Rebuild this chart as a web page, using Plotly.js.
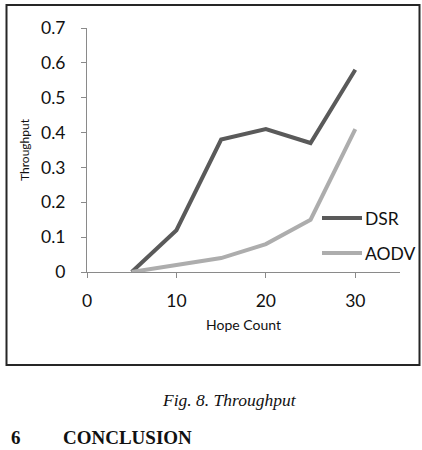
<!DOCTYPE html>
<html>
<head>
<meta charset="utf-8">
<script src="https://cdn.plot.ly/plotly-3.0.1.min.js"></script>
<style>
  html, body { margin: 0; padding: 0; background: #ffffff; }
  #chart { width: 422px; height: 450px; }
</style>
</head>
<body>
<div id="chart"></div>
<script>
// Data
var hopCount = [5, 10, 15, 20, 25, 30];
var dsrThroughput = [0, 0.12, 0.38, 0.41, 0.37, 0.58];
var aodvThroughput = [0, 0.02, 0.04, 0.08, 0.15, 0.41];
var seriesNames = ['DSR', 'AODV'];
var xTickVals = [0, 10, 20, 30];
var yTickVals = [0, 0.1, 0.2, 0.3, 0.4, 0.5, 0.6, 0.7];
var yTickText = ['0', '0.1', '0.2', '0.3', '0.4', '0.5', '0.6', '0.7'];

var dsrColor = '#5a5a5a';
var aodvColor = '#adadad';
var axisColor = '#8a8a8a';
var fontFam = 'Lato, "Liberation Sans", sans-serif';

var traces = [
  {
    x: hopCount, y: dsrThroughput, name: seriesNames[0],
    type: 'scatter', mode: 'lines', cliponaxis: false,
    line: { color: dsrColor, width: 4 }
  },
  {
    x: hopCount, y: aodvThroughput, name: seriesNames[1],
    type: 'scatter', mode: 'lines', cliponaxis: false,
    line: { color: aodvColor, width: 4 }
  }
];

// Layout geometry helpers (pixel -> paper)
var W = 422, H = 450, mL = 87, mR = 22, mT = 28, mB = 178;
var pw = W - mL - mR, ph = H - mT - mB;
function px(x) { return (x - mL) / pw; }
function py(y) { return (H - mB - y) / ph; }

var legendY = [218, 253];
var legendColors = [dsrColor, aodvColor];

var shapes = [
  { type: 'rect', xref: 'paper', yref: 'paper',
    x0: px(6.5), x1: px(419.5), y0: py(365), y1: py(5),
    line: { color: '#262626', width: 2 }, fillcolor: 'rgba(0,0,0,0)' }
];
var annotations = [];
for (var i = 0; i < seriesNames.length; i++) {
  shapes.push({ type: 'line', xref: 'paper', yref: 'paper',
    x0: px(322), x1: px(362), y0: py(legendY[i]), y1: py(legendY[i]),
    line: { color: legendColors[i], width: 4 } });
  annotations.push({ xref: 'paper', yref: 'paper', x: px(363), y: py(legendY[i]),
    xanchor: 'left', yanchor: 'middle', showarrow: false, text: seriesNames[i],
    font: { family: fontFam, size: 17.5, color: '#111111' } });
}
annotations.push({ xref: 'paper', yref: 'paper', x: px(229), y: py(400),
  xanchor: 'center', yanchor: 'middle', showarrow: false,
  text: '<i>Fig. 8. Throughput</i>',
  font: { family: '"Liberation Serif", "Times New Roman", serif', size: 17.5, color: '#111111' } });
annotations.push({ xref: 'paper', yref: 'paper', x: px(9), y: py(437),
  xanchor: 'left', yanchor: 'middle', showarrow: false,
  text: '<b>6</b>',
  font: { family: '"Liberation Serif", "Times New Roman", serif', size: 19, color: '#111111' } });
annotations.push({ xref: 'paper', yref: 'paper', x: px(61), y: py(437),
  xanchor: 'left', yanchor: 'middle', showarrow: false,
  text: '<b>CONCLUSION</b>',
  font: { family: '"Liberation Serif", "Times New Roman", serif', size: 19, color: '#111111' } });

var layout = {
  width: W, height: H,
  margin: { l: mL, r: mR, t: mT, b: mB, pad: 0 },
  paper_bgcolor: '#ffffff', plot_bgcolor: '#ffffff',
  showlegend: false,
  font: { family: fontFam, color: '#111111' },
  xaxis: {
    range: [0, 35], tickvals: xTickVals, ticktext: xTickVals.map(String),
    showline: true, linecolor: axisColor, linewidth: 1,
    ticks: 'outside', ticklen: 5, tickcolor: axisColor, tickwidth: 1,
    showgrid: false, zeroline: false, ticklabelstandoff: 8,
    tickfont: { family: fontFam, size: 17.5, color: '#111111' },
    title: { text: 'Hope Count', font: { family: fontFam, size: 14, color: '#111111' }, standoff: 10 }
  },
  yaxis: {
    range: [0, 0.7], tickvals: yTickVals, ticktext: yTickText,
    showline: true, linecolor: axisColor, linewidth: 1,
    ticks: 'outside', ticklen: 5, tickcolor: axisColor, tickwidth: 1,
    showgrid: false, zeroline: false, ticklabelstandoff: 12,
    tickfont: { family: fontFam, size: 17.5, color: '#111111' },
    title: { text: 'Throughput', font: { family: fontFam, size: 12, color: '#111111' }, standoff: 8 }
  },
  shapes: shapes,
  annotations: annotations
};

Plotly.newPlot('chart', traces, layout, { staticPlot: true, displayModeBar: false });
</script>
</body>
</html>
